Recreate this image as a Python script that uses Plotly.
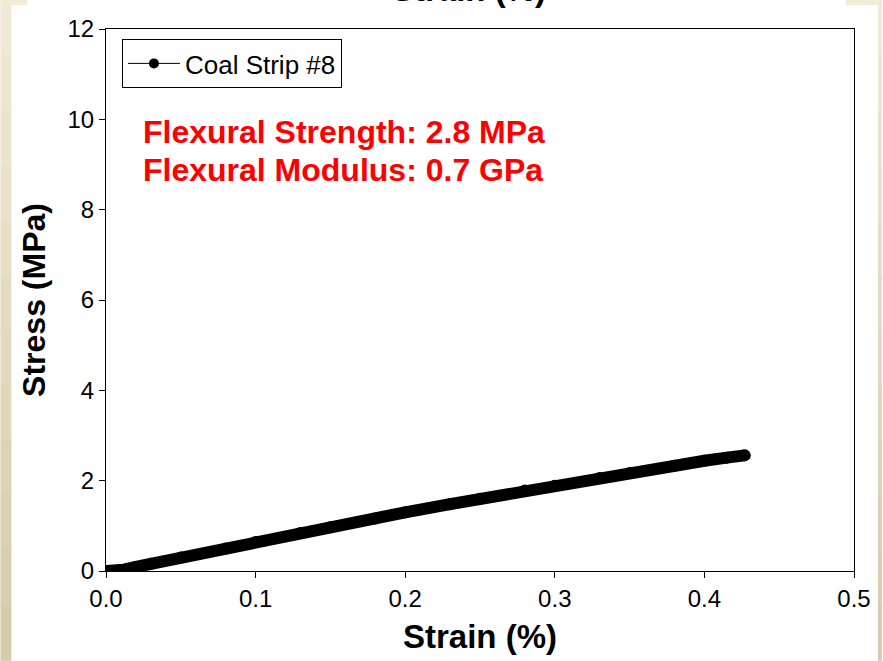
import plotly.graph_objects as go

# ---- data ----
strain = [0.0, 0.003, 0.006, 0.009, 0.012, 0.02, 0.03, 0.05, 0.08, 0.10, 0.13, 0.15, 0.18, 0.20,
          0.23, 0.25, 0.28, 0.30, 0.33, 0.35, 0.38, 0.40, 0.415, 0.427]
stress = [0.0, 0.0, 0.0, 0.0, 0.03, 0.09, 0.16, 0.30, 0.50, 0.64, 0.84, 0.97, 1.16, 1.30,
          1.48, 1.60, 1.78, 1.89, 2.06, 2.17, 2.33, 2.44, 2.51, 2.56]
series_name = "Coal Strip #8"
x_ticks = [0.0, 0.1, 0.2, 0.3, 0.4, 0.5]
x_tick_text = ["0.0", "0.1", "0.2", "0.3", "0.4", "0.5"]
y_ticks = [0, 2, 4, 6, 8, 10, 12]
notes = ["Flexural Strength: 2.8 MPa", "Flexural Modulus: 0.7 GPa"]

FONT = "Liberation Sans, Arial, sans-serif"
W, H = 883, 661
L, R, T, B = 106, 26, 29, 89
PW, PH = W - L - R, H - T - B


def px(x):
    return (x - L) / PW


def py(y):
    return (H - B - y) / PH


fig = go.Figure()
fig.add_trace(go.Scatter(
    x=strain, y=stress, mode="lines+markers", showlegend=False,
    line=dict(color="black", width=12),
    marker=dict(color="black", size=12, symbol="circle"),
))
# legend sample
fig.add_trace(go.Scatter(
    x=[None], y=[None], mode="lines+markers", name=series_name,
    line=dict(color="black", width=1),
    marker=dict(color="black", size=10),
))

# cream slide-background strips (gradient approximated with bands)
shapes = []
top_c = (241, 235, 216)
bot_c = (214, 203, 168)
n = 12
for i in range(n):
    t = (i + 0.5) / n
    c = tuple(int(top_c[k] + (bot_c[k] - top_c[k]) * t) for k in range(3))
    col = "rgb(%d,%d,%d)" % c
    y0 = H * i / n
    y1 = H * (i + 1) / n + 1
    shapes.append(dict(type="rect", xref="paper", yref="paper", layer="below",
                       x0=px(0), x1=px(11), y0=py(y1), y1=py(y0),
                       fillcolor=col, line=dict(width=0)))
    shapes.append(dict(type="rect", xref="paper", yref="paper", layer="below",
                       x0=px(881), x1=px(W + 2), y0=py(y1), y1=py(y0),
                       fillcolor=col, line=dict(width=0)))
shapes.append(dict(type="rect", xref="paper", yref="paper", layer="below",
                   x0=px(0), x1=px(27), y0=py(5), y1=py(-2),
                   fillcolor="rgb(241,235,216)", line=dict(width=0)))
shapes.append(dict(type="rect", xref="paper", yref="paper", layer="below",
                   x0=px(849), x1=px(W + 2), y0=py(5), y1=py(-2),
                   fillcolor="rgb(241,235,216)", line=dict(width=0)))

annotations = [
    dict(text="<b>Strain (%)</b>", xref="paper", yref="paper",
         x=px(470), y=py(-11), xanchor="center", yanchor="middle",
         showarrow=False, font=dict(family=FONT, size=33, color="black")),
    dict(text="<b>%s</b>" % notes[0], xref="paper", yref="paper",
         x=px(141), y=py(132), xanchor="left", yanchor="middle",
         showarrow=False, font=dict(family=FONT, size=32, color="#FF0000")),
    dict(text="<b>%s</b>" % notes[1], xref="paper", yref="paper",
         x=px(141), y=py(170), xanchor="left", yanchor="middle",
         showarrow=False, font=dict(family=FONT, size=32, color="#FF0000")),
]

fig.update_layout(
    width=W, height=H,
    margin=dict(l=L, r=R, t=T, b=B, pad=0),
    paper_bgcolor="white", plot_bgcolor="white",
    font=dict(family=FONT, color="black"),
    shapes=shapes, annotations=annotations,
    legend=dict(x=px(122), y=py(39), xanchor="left", yanchor="top",
                bgcolor="white", bordercolor="black", borderwidth=1,
                font=dict(family=FONT, size=26, color="black"),
                itemwidth=52, tracegroupgap=0),
    xaxis=dict(range=[0, 0.5], tickvals=x_ticks, ticktext=x_tick_text,
               showgrid=False, zeroline=False, showline=True, linecolor="black",
               linewidth=1, mirror=True, ticks="outside", ticklen=6,
               tickcolor="black", tickfont=dict(family=FONT, size=24),
               title=dict(text="<b>Strain (%)</b>", font=dict(family=FONT, size=33),
                          standoff=14)),
    yaxis=dict(range=[0, 12], tickvals=y_ticks,
               showgrid=False, zeroline=False, showline=True, linecolor="black",
               linewidth=1, mirror=True, ticks="outside", ticklen=6,
               tickcolor="black", tickfont=dict(family=FONT, size=24),
               title=dict(text="<b>Stress (MPa)</b>", font=dict(family=FONT, size=32),
                          standoff=12)),
)

fig.write_html("out.html")
